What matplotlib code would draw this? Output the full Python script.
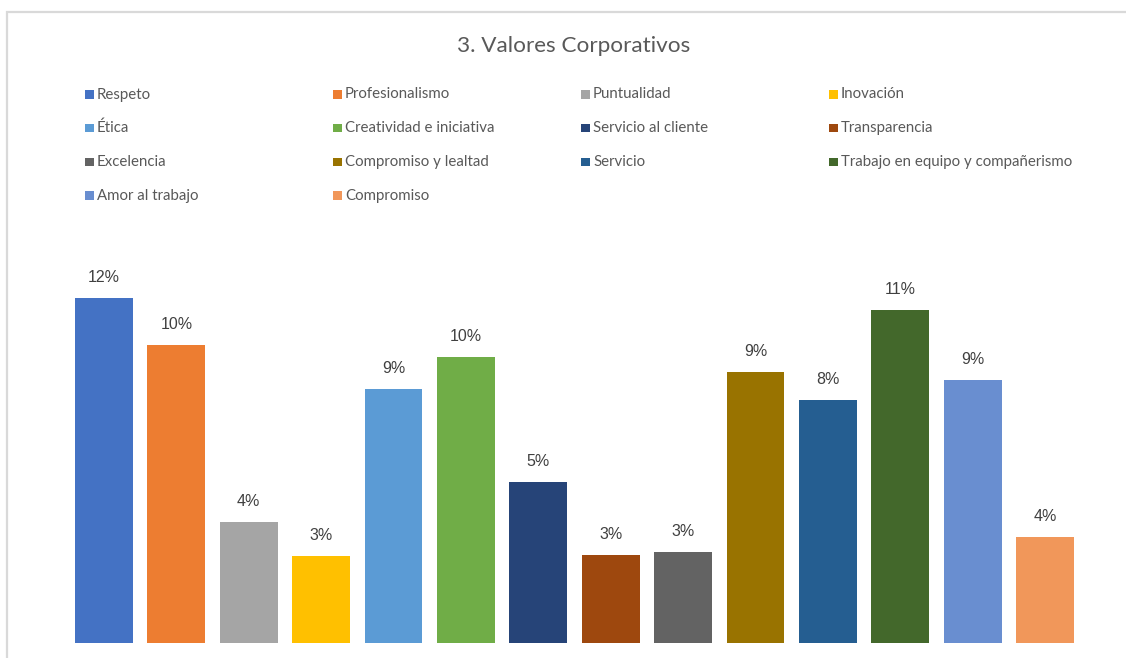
import matplotlib
matplotlib.use("Agg")
import matplotlib.pyplot as plt
from matplotlib.patches import Rectangle

# data (share of answers, %)
valores = ["Respeto", "Profesionalismo", "Puntualidad", "Inovación", "Ética",
           "Creatividad e iniciativa", "Servicio al cliente", "Transparencia",
           "Excelencia", "Compromiso y lealtad", "Servicio",
           "Trabajo en equipo y compañerismo", "Amor al trabajo", "Compromiso"]
porcentaje = [11.7, 10.1, 4.1, 2.95, 8.6, 9.7, 5.45, 3.0, 3.1, 9.2, 8.25, 11.3, 8.9, 3.6]
colores = ["#4472C4", "#ED7D31", "#A5A5A5", "#FFC000", "#5B9BD5", "#70AD47",
           "#264478", "#9E480E", "#636363", "#997300", "#255E91", "#43682B",
           "#698ED0", "#F1975A"]

W, H = 1126, 658
fig = plt.figure(figsize=(W / 100, H / 100), dpi=100)

# light frame of the chart area
fig.patches.append(Rectangle((7.5 / W, -0.05), 1.1, (H - 11.5) / H + 0.05,
                             transform=fig.transFigure, fill=False,
                             edgecolor="#d9d9d9", linewidth=1.6))

ax = fig.add_axes([67.8 / W, (H - 643) / H, (1081.2 - 67.8) / W, (643 - 230) / H])
x = list(range(len(valores)))
ax.bar(x, porcentaje, width=0.8, color=colores)
for xi, v in zip(x, porcentaje):
    ax.annotate("{:.0f}%".format(v), (xi, v), xytext=(0, 11.5), textcoords="offset points",
                ha="center", va="baseline", fontsize=11.5, color="#404040",
                family="Liberation Sans")
ax.set_xlim(-0.5, len(valores) - 0.5)
ax.set_ylim(0, 14)
ax.axis("off")

fig.text(574 / W, 1 - 46 / H, "3. Valores Corporativos", ha="center", va="center",
         fontsize=16.2, color="#595959", family="Lato")

# legend, row by row, 4 columns
for i, (nombre, c) in enumerate(zip(valores, colores)):
    fila, col = divmod(i, 4)
    xl = 85 + col * 248
    yc = 94.5 + fila * 33.7
    fig.patches.append(Rectangle((xl / W, 1 - (yc + 4.2) / H), 8.8 / W, 8.4 / H,
                                 transform=fig.transFigure, facecolor=c, edgecolor="none"))
    fig.text((xl + 12) / W, 1 - yc / H, nombre, ha="left", va="center",
             fontsize=10.8, color="#595959", family="Lato")

fig.savefig("out.png", dpi=100)
